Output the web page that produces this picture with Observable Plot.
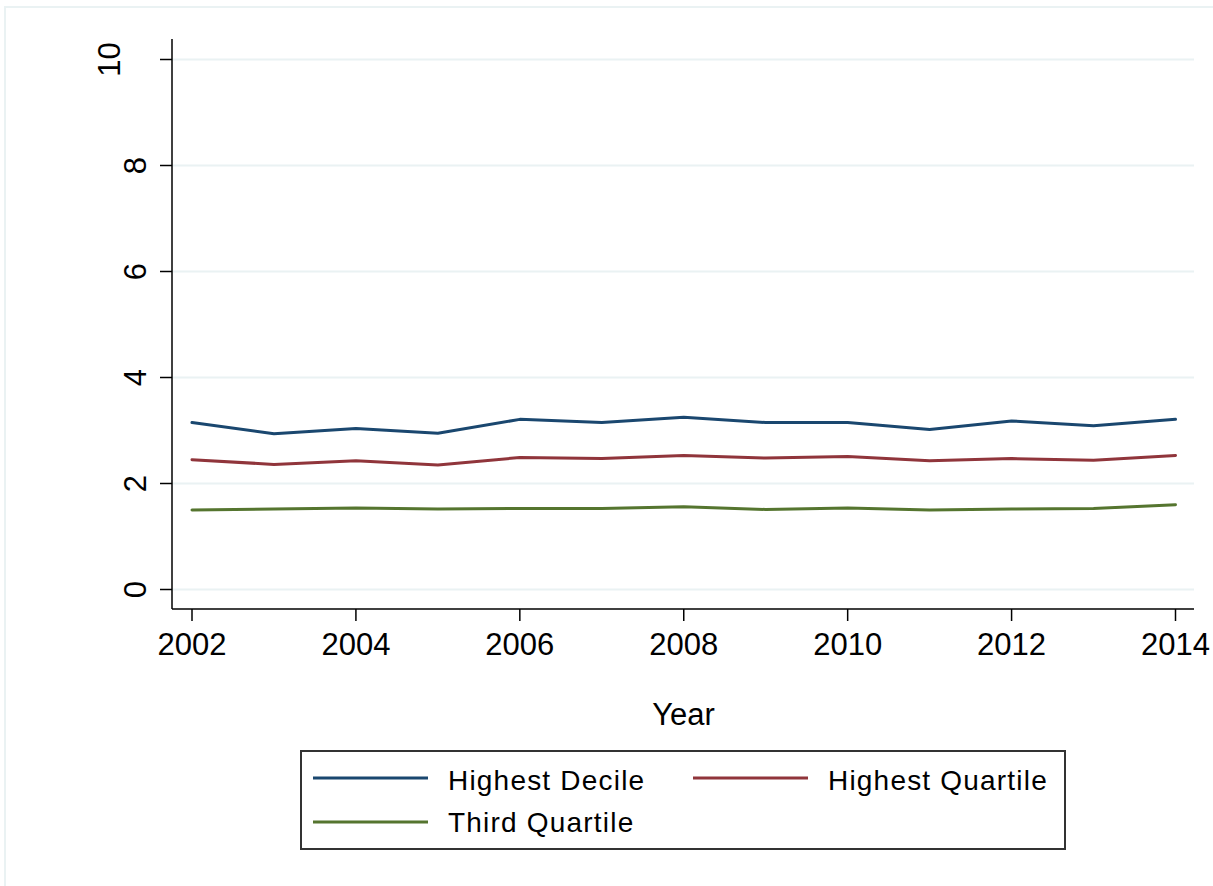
<!DOCTYPE html>
<html>
<head>
<meta charset="utf-8">
<script src="https://cdn.jsdelivr.net/npm/d3@7"></script>
<script src="https://cdn.jsdelivr.net/npm/@observablehq/plot@0.6"></script>
<style>
  html, body { margin: 0; padding: 0; background: #fff; }
  #wrap { position: relative; width: 1213px; height: 886px; overflow: hidden; font-family: "Liberation Sans", Arial, sans-serif; }
  #outer { position: absolute; left: 4px; top: 6px; width: 1300px; height: 1000px; border-top: 2px solid #eaf2f3; border-left: 2px solid #eaf2f3; }
  #chart { position: absolute; left: 0; top: 0; }
  #legend { position: absolute; left: 300px; top: 750px; width: 766px; height: 100px; box-sizing: border-box; border: 2px solid #333; background: #fff; }
</style>
</head>
<body>
<div id="wrap">
  <div id="outer"></div>
  <div id="chart"></div>
  <div id="legend"></div>
</div>
<script>
// ---- data ----
const years = [2002, 2003, 2004, 2005, 2006, 2007, 2008, 2009, 2010, 2011, 2012, 2013, 2014];
const highestDecile   = [3.15, 2.94, 3.04, 2.95, 3.21, 3.15, 3.25, 3.15, 3.15, 3.02, 3.18, 3.09, 3.21];
const highestQuartile = [2.45, 2.36, 2.43, 2.35, 2.49, 2.47, 2.53, 2.48, 2.51, 2.43, 2.47, 2.44, 2.53];
const thirdQuartile   = [1.50, 1.52, 1.54, 1.52, 1.53, 1.53, 1.56, 1.51, 1.54, 1.50, 1.52, 1.53, 1.60];
const seriesNames  = ["Highest Decile", "Highest Quartile", "Third Quartile"];
const seriesColors = ["#1a476f", "#90353b", "#55752f"];
const xTicks = [2002, 2004, 2006, 2008, 2010, 2012, 2014];
const yTicks = [0, 2, 4, 6, 8, 10];
const xLabel = "Year";

// ---- long table ----
const seriesValues = [highestDecile, highestQuartile, thirdQuartile];
const rows = [];
seriesNames.forEach((name, i) => {
  years.forEach((yr, j) => rows.push({series: name, year: yr, value: seriesValues[i][j]}));
});

const W = 1213, H = 745;
const mL = 172, mR = 19, mT = 39, mB = 136;
const FONT = "'Liberation Sans', Arial, sans-serif";

const plot = Plot.plot({
  width: W, height: H,
  marginLeft: mL, marginRight: mR, marginTop: mT, marginBottom: mB,
  insetLeft: 19.5, insetRight: 19, insetTop: 20, insetBottom: 20,
  style: {fontFamily: FONT, background: "transparent", color: "#000"},
  x: {domain: [2002, 2014]},
  y: {domain: [0, 10]},
  color: {domain: seriesNames, range: seriesColors},
  marks: [
    Plot.gridY(yTicks, {stroke: "#eaf2f3", strokeOpacity: 1, strokeWidth: 2}),
    Plot.axisX({ticks: xTicks, tickSize: 12, tickFormat: () => "", label: null, stroke: "#000", strokeWidth: 1.5}),
    Plot.axisY({ticks: yTicks, tickSize: 12, tickFormat: () => "", label: null, stroke: "#000", strokeWidth: 1.5}),
    Plot.line(rows, {x: "year", y: "value", z: "series", stroke: "series", strokeWidth: 3, strokeLinejoin: "miter"}),
    Plot.text(xTicks, {x: d => d, text: d => String(d), frameAnchor: "bottom", dy: 45, fontSize: 31, fill: "#000"}),
    Plot.text(yTicks, {filter: d => d < 10, y: d => d, text: d => String(d), frameAnchor: "left", textAnchor: "middle", lineAnchor: "middle", dx: -36, rotate: -90, fontSize: 31, fill: "#000"}),
    Plot.text(yTicks, {filter: d => d >= 10, y: d => d, text: d => String(d), frameAnchor: "left", textAnchor: "middle", lineAnchor: "middle", dx: -62, rotate: -90, fontSize: 31, fill: "#000"}),
    Plot.text([xLabel], {text: d => d, frameAnchor: "bottom", dy: 115, fontSize: 31, fill: "#000"})
  ]
});
document.getElementById("chart").appendChild(plot);

// axis lines
const svg = d3.select(plot);
svg.append("line").attr("x1", mL).attr("x2", mL).attr("y1", mT).attr("y2", H - mB)
  .attr("stroke", "#000").attr("stroke-width", 1.5);
svg.append("line").attr("x1", mL).attr("x2", W - mR).attr("y1", H - mB).attr("y2", H - mB)
  .attr("stroke", "#000").attr("stroke-width", 1.5);

// legend
const leg = d3.select("#legend").append("svg").attr("width", 762).attr("height", 96)
  .style("position", "absolute").style("left", "0px").style("top", "0px");
const legPos = [[11, 26, 38], [391, 26, 38], [11, 70, 80]];
seriesNames.forEach((name, i) => {
  const [x, ly, ty] = legPos[i];
  leg.append("line").attr("x1", x).attr("x2", x + 115).attr("y1", ly).attr("y2", ly)
    .attr("stroke", seriesColors[i]).attr("stroke-width", 3);
  leg.append("text").attr("x", x + 135).attr("y", ty).text(name)
    .attr("font-family", FONT).attr("font-size", 28).attr("letter-spacing", "1.2px").attr("fill", "#000");
});
</script>
</body>
</html>
